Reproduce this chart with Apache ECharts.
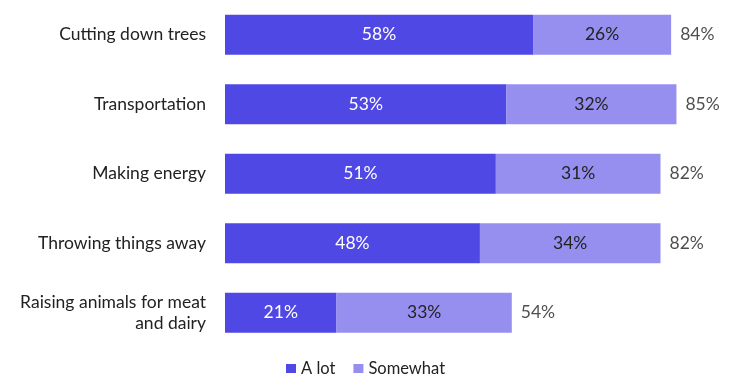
<!DOCTYPE html>
<html>
<head>
<meta charset="utf-8">
<script src="https://cdn.jsdelivr.net/npm/echarts@6/dist/echarts.min.js"></script>
<style>html,body{margin:0;padding:0;background:#fff;}#c{width:749px;height:377px;}</style>
</head>
<body>
<div id="c"></div>
<script>
const categories = ["Cutting down trees", "Transportation", "Making energy", "Throwing things away", "Raising animals for meat\nand dairy"];
const aLot = [58, 53, 51, 48, 21];
const somewhat = [26, 32, 31, 34, 33];
const totals = [84, 85, 82, 82, 54];
const seriesNames = ["A lot", "Somewhat"];

const FONT = "Lato";
const FS = 17.5;
const chart = echarts.init(document.getElementById('c'), null, {renderer: 'canvas'});
chart.setOption({
  animation: false,
  textStyle: {fontFamily: FONT},
  grid: {left: 225, top: 0, width: 478, height: 347.5, containLabel: false},
  xAxis: {type: 'value', min: 0, max: 90, show: false},
  yAxis: {
    type: 'category', data: categories, inverse: true,
    axisLine: {show: false}, axisTick: {show: false},
    axisLabel: {color: '#222222', fontSize: FS, fontFamily: FONT, margin: 19, align: 'right', lineHeight: 21}
  },
  legend: {
    left: 281, top: 355, itemWidth: 10, itemHeight: 9, itemGap: 18,
    icon: 'rect',
    textStyle: {color: '#222222', fontSize: 16.5, fontFamily: FONT},
    data: seriesNames
  },
  series: [
    {
      name: seriesNames[0], type: 'bar', stack: 'total', barWidth: 40,
      itemStyle: {color: '#5048E5'},
      label: {show: true, position: 'inside', color: '#ffffff', fontSize: FS, fontFamily: FONT, formatter: p => p.value + '%'},
      data: aLot
    },
    {
      name: seriesNames[1], type: 'bar', stack: 'total', barWidth: 40,
      itemStyle: {color: '#968FF0'},
      label: {show: true, position: 'inside', color: '#222222', fontSize: FS, fontFamily: FONT, formatter: p => p.value + '%'},
      data: somewhat
    },
    {
      name: 'Total', type: 'scatter', symbolSize: 0, silent: true,
      label: {show: true, position: 'right', distance: 9, color: '#222222', fontSize: FS, fontFamily: FONT, formatter: p => totals[p.dataIndex] + '%'},
      data: totals.map((t, i) => [t, categories[i]])
    }
  ]
});
</script>
</body>
</html>
